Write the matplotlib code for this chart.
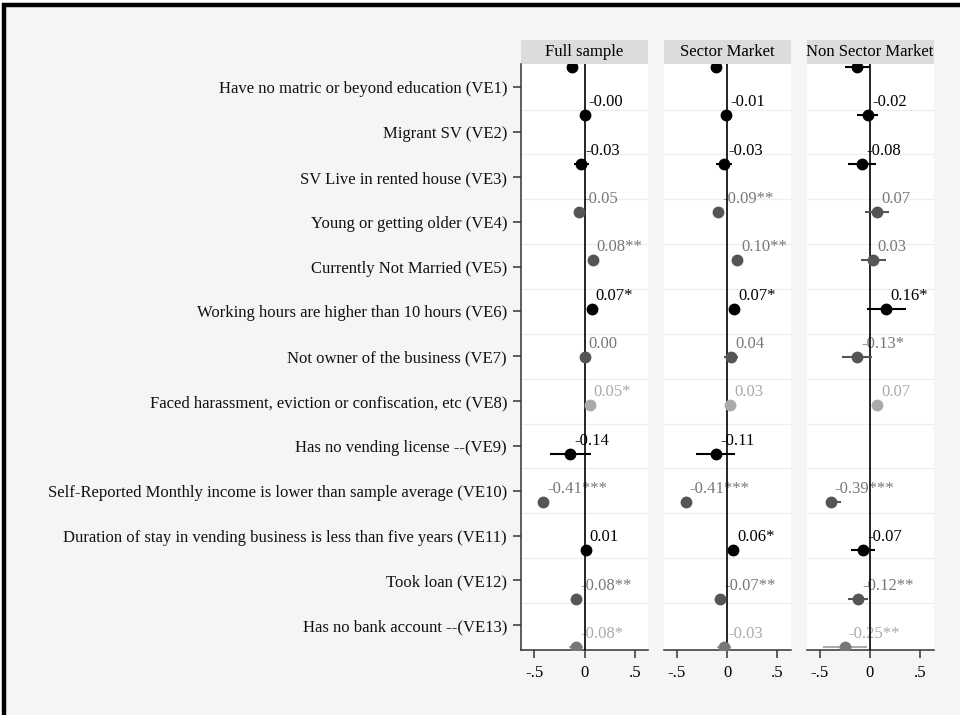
import matplotlib
matplotlib.use('Agg')
import matplotlib.pyplot as plt
import numpy as np
from matplotlib.transforms import offset_copy
from matplotlib.patches import Rectangle

plt.rcParams['font.family'] = ['Liberation Serif', 'DejaVu Serif']

variables = [
    "Have no matric or beyond education (VE1)",
    "Migrant SV (VE2)",
    "SV Live in rented house (VE3)",
    "Young or getting older (VE4)",
    "Currently Not Married (VE5)",
    "Working hours are higher than 10 hours (VE6)",
    "Not owner of the business (VE7)",
    "Faced harassment, eviction or confiscation, etc (VE8)",
    "Has no vending license --(VE9)",
    "Self-Reported Monthly income is lower than sample average (VE10)",
    "Duration of stay in vending business is less than five years (VE11)",
    "Took loan (VE12)",
    "Has no bank account --(VE13)",
]
panel_titles = ["Full sample", "Sector Market", "Non Sector Market"]

est_full = [-0.12, -0.00, -0.03, -0.05, 0.08, 0.07, 0.00, 0.05, -0.14, -0.41, 0.01, -0.08, -0.08]
lo_full = [-0.15, -0.03, -0.10, -0.08, 0.05, 0.02, -0.02, 0.02, -0.34, -0.44, -0.02, -0.11, -0.15]
hi_full = [-0.09, 0.03, 0.04, -0.02, 0.11, 0.13, 0.02, 0.08, 0.06, -0.38, 0.04, -0.05, -0.01]
stars_full = ["", "", "", "", "**", "*", "", "*", "", "***", "", "**", "*"]

est_sector = [-0.11, -0.01, -0.03, -0.09, 0.10, 0.07, 0.04, 0.03, -0.11, -0.41, 0.06, -0.07, -0.03]
lo_sector = [-0.14, -0.04, -0.11, -0.12, 0.07, 0.03, -0.03, 0.00, -0.31, -0.44, 0.03, -0.10, -0.10]
hi_sector = [-0.08, 0.02, 0.05, -0.06, 0.13, 0.11, 0.11, 0.06, 0.08, -0.38, 0.09, -0.04, 0.04]
stars_sector = ["", "", "", "**", "**", "*", "", "", "", "***", "*", "**", ""]

est_non = [-0.13, -0.02, -0.08, 0.07, 0.03, 0.16, -0.13, 0.07, np.nan, -0.39, -0.07, -0.12, -0.25]
lo_non = [-0.25, -0.13, -0.22, -0.05, -0.09, -0.03, -0.28, 0.03, np.nan, -0.44, -0.19, -0.22, -0.47]
hi_non = [0.00, 0.08, 0.06, 0.19, 0.16, 0.36, 0.02, 0.11, np.nan, -0.29, 0.05, -0.02, -0.03]
stars_non = ["", "", "", "", "", "*", "*", "", "", "***", "", "**", "**"]

xticks = [-0.5, 0, 0.5]
xticklabels = ["-.5", "0", ".5"]

# style group of each row (point colour, label colour, CI colour)
row_style = ["k", "k", "k", "d", "d", "k", "d", "l", "k", "d", "k", "d", "m"]
styles = {
    "k": ("#000000", "#000000", "#000000"),
    "d": ("#555555", "#777777", "#555555"),
    "l": ("#aaaaaa", "#aaaaaa", "#aaaaaa"),
    "m": ("#777777", "#aaaaaa", "#aaaaaa"),
}

panels = [
    (est_full, lo_full, hi_full, stars_full),
    (est_sector, lo_sector, hi_sector, stars_sector),
    (est_non, lo_non, hi_non, stars_non),
]

W, H = 960, 715
fig = plt.figure(figsize=(W / 100, H / 100), dpi=100)
fig.patch.set_facecolor("white")
bg = Rectangle((4 / W, -0.1), 1.2, 1.1 - 5 / H, transform=fig.transFigure,
               facecolor="#f5f5f5", edgecolor="black", lw=3.2, zorder=-10)
fig.patches.append(bg)

lefts_px = [521, 663.5, 806.5]
width_px = 127
top_px, bottom_px = 64, 650
strip_px = 24

n = len(variables)
rows = np.arange(1, n + 1)
ylim = (n + 0.06, 0.94)
tick_pos = np.linspace(1.42, 12.55, n)
grid_pos = (tick_pos[:-1] + tick_pos[1:]) / 2

for i, (left_px, (est, lo, hi, stars)) in enumerate(zip(lefts_px, panels)):
    ax = fig.add_axes([left_px / W, (H - bottom_px) / H, width_px / W,
                       (bottom_px - top_px) / H])
    ax.set_facecolor("white")
    ax.set_xlim(-0.63, 0.63)
    ax.set_ylim(*ylim)
    for g in grid_pos:
        ax.axhline(g, color="#eeeeee", lw=0.9, zorder=0.5)
    ax.axvline(0, color="black", lw=1.2, zorder=4)
    lab_tr = offset_copy(ax.transData, fig=fig, x=4, y=13, units="dots")
    for k, (r, e, l, h, s, st) in enumerate(zip(rows, est, lo, hi, stars, row_style)):
        if np.isnan(e):
            continue
        pc, lc, cc = styles[st]
        ax.plot([l, h], [r, r], color=cc, lw=1.5, zorder=4.5, solid_capstyle="butt")
        ax.plot([e], [r], "o", color=pc, ms=7.5, mec=pc, zorder=5)
        if k == 0:
            continue  # label of the top row falls outside the plot area
        ax.text(e, r, f"{e:.2f}{s}", transform=lab_tr, color=lc, fontsize=12,
                ha="left", va="center", zorder=2.5, clip_on=True)
    for sp in ["top", "right"]:
        ax.spines[sp].set_visible(False)
    ax.spines["bottom"].set_color("#333333")
    ax.spines["bottom"].set_linewidth(1.1)
    ax.set_xticks(xticks)
    ax.set_xticklabels(xticklabels, fontsize=12)
    ax.tick_params(axis="x", length=6, width=1.1, color="#333333", pad=5)
    if i == 0:
        ax.spines["left"].set_color("#333333")
        ax.spines["left"].set_linewidth(1.1)
        ax.set_yticks(tick_pos)
        ax.set_yticklabels(variables, fontsize=12, color="#111111")
        ax.tick_params(axis="y", length=6, width=1.1, color="#333333", pad=4)
    else:
        ax.spines["left"].set_visible(False)
        ax.set_yticks([])
    sh = strip_px / (bottom_px - top_px)
    ax.add_patch(Rectangle((0, 1), 1, sh, transform=ax.transAxes,
                           facecolor="#dcdcdc", edgecolor="none", clip_on=False))
    ax.text(0.5, 1 + sh / 2, panel_titles[i], transform=ax.transAxes,
            ha="center", va="center", fontsize=12)

fig.savefig("out.png", dpi=100, facecolor=fig.get_facecolor())
